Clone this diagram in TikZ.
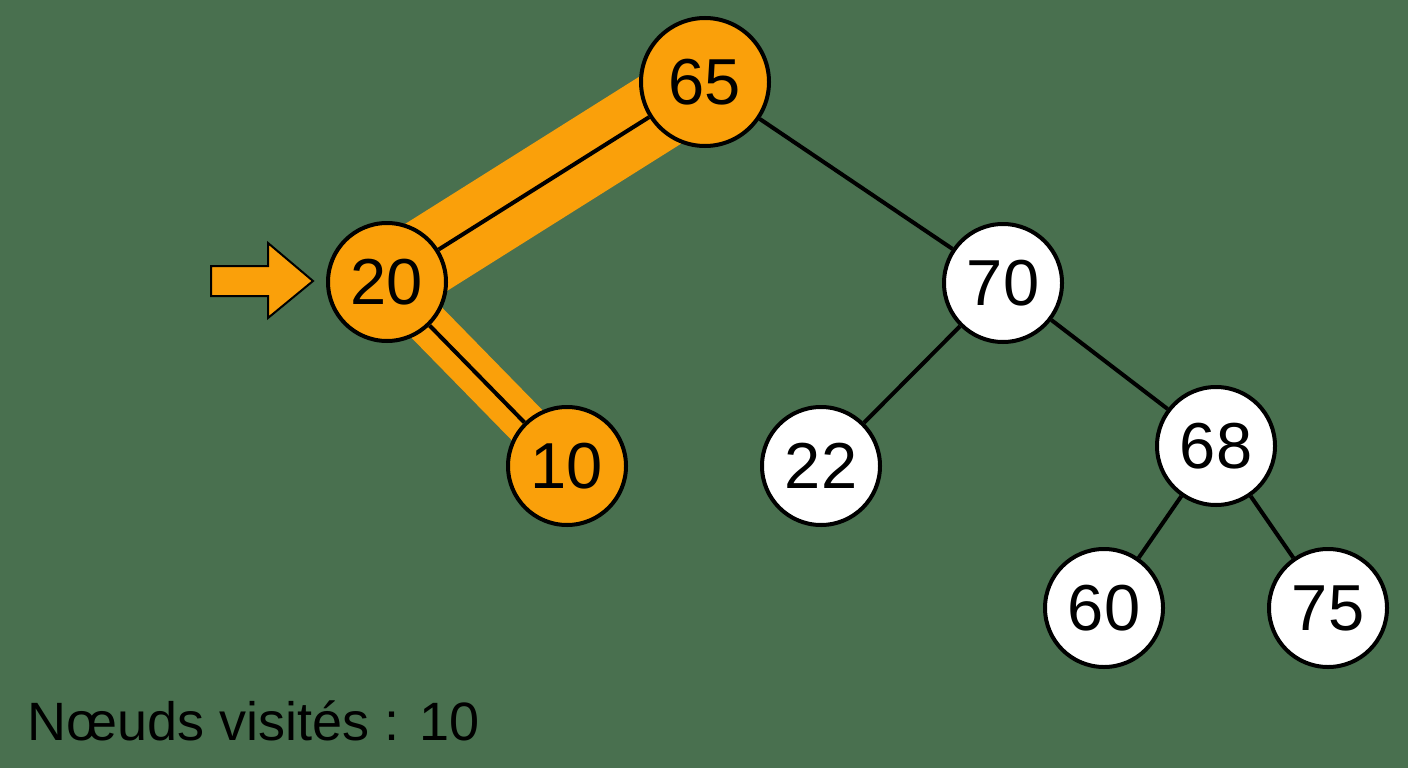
\documentclass[tikz,border=0pt]{standalone}
\usepackage{fontspec}
\setmainfont{Liberation Sans}
\pgfdeclarelayer{bg}
\pgfdeclarelayer{edges}
\pgfsetlayers{bg,edges,main}
\definecolor{bggreen}{RGB}{73,112,79}
\definecolor{hlorange}{RGB}{250,160,10}
\tikzset{
  tnode/.style={circle, draw=black, line width=4pt, minimum size=118pt, inner sep=0pt, font=\fontsize{65}{65}\selectfont},
  visited/.style={tnode, fill=hlorange},
  fresh/.style={tnode, fill=white},
  edge/.style={draw=black, line width=4pt},
  band/.style={draw=hlorange},
  pointer/.style={fill=hlorange, draw=black, line width=2pt, line join=miter},
}
\begin{document}
\begin{tikzpicture}[x=1pt,y=-1pt]
\begin{pgfonlayer}{bg}
\fill[bggreen] (0,0) rectangle (1408,768);
\end{pgfonlayer}
\useasboundingbox (0,0) rectangle (1408,768);
\node[visited, minimum size=128pt] (n65) at (705,82) {65};
\node[visited] (n20) at (387,282) {20};
\node[visited] (n10) at (567,466) {10};
\node[fresh] (n70) at (1003,283) {70};
\node[fresh] (n22) at (821,466) {22};
\node[fresh] (n68) at (1216,446) {68};
\node[fresh] (n60) at (1104,608) {60};
\node[fresh] (n75) at (1328,608) {75};
\begin{pgfonlayer}{edges}
\draw[band, line width=79pt, shift={(-4.3,-6.8)}] (n20.center) -- (n65.center);
\draw[band, line width=43pt] (n20.center) -- (n10.center);
\draw[edge] (n65) -- (n20);
\draw[edge] (n20) -- (n10);
\draw[edge] (n65) -- (n70);
\draw[edge] (n70) -- (n22);
\draw[edge] (n70) -- (n68);
\draw[edge] (n68) -- (n60);
\draw[edge] (n68) -- (n75);
\end{pgfonlayer}
\draw[pointer]
  (211,266) -- (268,266) -- (268,243) -- (313,281) -- (268,318) -- (268,296) -- (211,296) -- cycle;
\node[anchor=base west, inner sep=0pt, font=\fontsize{54}{54}\selectfont] (lbl) at (27,740) {Nœuds visités : 10};
\end{tikzpicture}
\end{document}
